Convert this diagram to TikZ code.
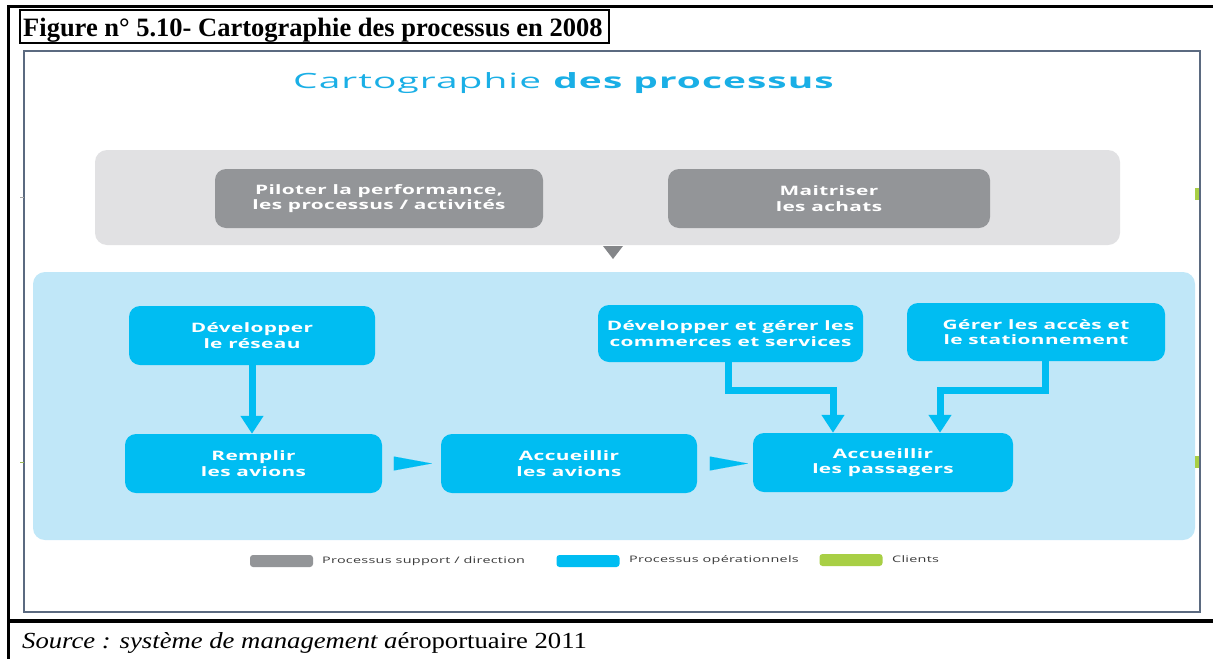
\documentclass[tikz,border=0pt]{standalone}
\usepackage{fontspec}
\setmainfont{Liberation Serif}
\newfontfamily\capserif{Liberation Serif}
\newfontfamily\srcserif[FakeStretch=1.16]{Liberation Serif}
\newfontfamily\diag[FakeStretch=1.6,LetterSpace=3]{Open Sans}
\newfontfamily\titlefont[FakeStretch=1.85,LetterSpace=5]{Open Sans}
\usetikzlibrary{arrows.meta}
\definecolor{framecol}{HTML}{5B6A80}
\definecolor{bandgrey}{HTML}{E1E1E3}
\definecolor{boxgrey}{HTML}{939598}
\definecolor{bandblue}{HTML}{C0E7F8}
\definecolor{boxblue}{HTML}{00BDF2}
\definecolor{titleblue}{HTML}{1AAFE6}
\definecolor{clientgreen}{HTML}{A8CF45}
\definecolor{legtext}{HTML}{3A3A3A}
\tikzset{
  band/.style={rounded corners=12pt, inner sep=0pt},
  procbox/.style={rounded corners=11pt, inner sep=0pt, text=white, align=center,
    font=\diag\bfseries\fontsize{13}{15.5}\selectfont},
  greybox/.style={procbox, fill=boxgrey},
  bluebox/.style={procbox, fill=boxblue},
  flow/.style={draw=boxblue, line width=7pt, line join=miter,
    -{Triangle[length=18pt,width=22pt]}},
  wedge/.style={draw=boxblue, line width=0.01pt, -{Triangle[length=38pt,width=14pt]}},
  swatch/.style={rounded corners=3pt, inner sep=0pt, minimum width=63pt, minimum height=12pt},
  legendtext/.style={anchor=west, inner sep=0pt, text=legtext, font=\diag\fontsize{9}{10}\selectfont},
}
\begin{document}
\begin{tikzpicture}[x=1pt,y=-1pt]
\useasboundingbox (0,0) rectangle (1213,659);
\fill[white] (0,0) rectangle (1213,659);
% outer table rules
\coordinate (tl) at (8,6);
\coordinate (tr) at (1213,6);
\coordinate (bl) at (8,659);
\coordinate (ml) at (8,621);
\coordinate (mr) at (1213,621);
\draw[line width=3pt] (tr) -- (tl) -- (bl);
\draw[line width=3.5pt] (ml) -- (mr);
% caption
\node (capbox) [draw=black, line width=1.8pt, inner sep=0pt, minimum width=589pt, minimum height=33pt] at (314.5,26.5) {};
\node (cap) [anchor=base west, inner sep=0pt, font=\capserif\bfseries\fontsize{26.5}{28}\selectfont] at (23,36)
  {Figure n° 5.10- Cartographie des processus en 2008};
% inner image frame
\node (frame) [draw=framecol, line width=2.5pt, inner sep=0pt, minimum width=1176pt, minimum height=561pt] at (612,331.5) {};
% title
\node (title) [anchor=base, text=titleblue, inner sep=0pt, font=\titlefont\fontsize{21}{24}\selectfont] at (564,88)
  {Cartographie \textbf{des processus}};
% bands
\node (gband) [band, fill=bandgrey, minimum width=1025pt, minimum height=95pt] at (607.5,197.5) {};
\node (bband) [band, fill=bandblue, minimum width=1162pt, minimum height=268pt] at (614,406) {};
\fill[boxgrey!90!black] (603,246) -- (623,246) -- (613,259) -- cycle;
% support boxes
\node (pil) [greybox, minimum width=328pt, minimum height=59pt] at (379,198.5)
  {Piloter la performance,\\les processus / activités};
\node (mai) [greybox, minimum width=322pt, minimum height=59pt] at (829,198.5)
  {Maitriser\\les achats};
% operational boxes
\node (dev) [bluebox, minimum width=246pt, minimum height=59pt] at (252,335.5)
  {Développer\\le réseau};
\node (com) [bluebox, minimum width=265pt, minimum height=57pt] at (730.5,333.5)
  {Développer et gérer les\\commerces et services};
\node (acc) [bluebox, minimum width=258pt, minimum height=58pt] at (1036,332)
  {Gérer les accès et\\le stationnement};
\node (rem) [bluebox, minimum width=257pt, minimum height=59pt] at (253.5,463.5)
  {Remplir\\les avions};
\node (avi) [bluebox, minimum width=256pt, minimum height=59pt] at (569,463.5)
  {Accueillir\\les avions};
\node (pas) [bluebox, minimum width=260pt, minimum height=59pt] at (883,462.5)
  {Accueillir\\les passagers};
% connectors
\draw[flow] (dev.south) -- (dev.south |- rem.north);
\draw[flow] ([xshift=-2pt]com.south) -- ++(0,28) -| ([xshift=-50pt]pas.north);
\draw[flow] ([xshift=9pt]acc.south) -- ++(0,29) -| ([xshift=57pt]pas.north);
\draw[wedge, shorten <=12pt, shorten >=9pt] (rem.east) -- (rem.east -| avi.west);
\draw[wedge, shorten <=14pt, shorten >=5pt] (avi.east) -- (avi.east -| pas.west);
% side marks
\fill[clientgreen] (1195,188) rectangle (1199,200);
\fill[clientgreen] (1195,456) rectangle (1199,468);
\fill[clientgreen!70!gray] (20,461.5) rectangle (24,462.5);
\fill[gray!70] (20,196.5) rectangle (24,197.5);
% legend
\node (lgs) [swatch, fill=boxgrey] at (281.5,561) {};
\node (lgt) [legendtext] at (322,561) {Processus support / direction};
\node (lbs) [swatch, fill=boxblue] at (588,561) {};
\node (lbt) [legendtext] at (629,560) {Processus opérationnels};
\node (lcs) [swatch, fill=clientgreen] at (851,560) {};
\node (lct) [legendtext] at (892,559) {Clients};
% source
\node (src) [anchor=base west, inner sep=0pt, font=\srcserif\fontsize{23}{25}\selectfont] at (22,648)
  {\itshape Source : système de management a\upshape éroportuaire 2011};
\end{tikzpicture}
\end{document}
